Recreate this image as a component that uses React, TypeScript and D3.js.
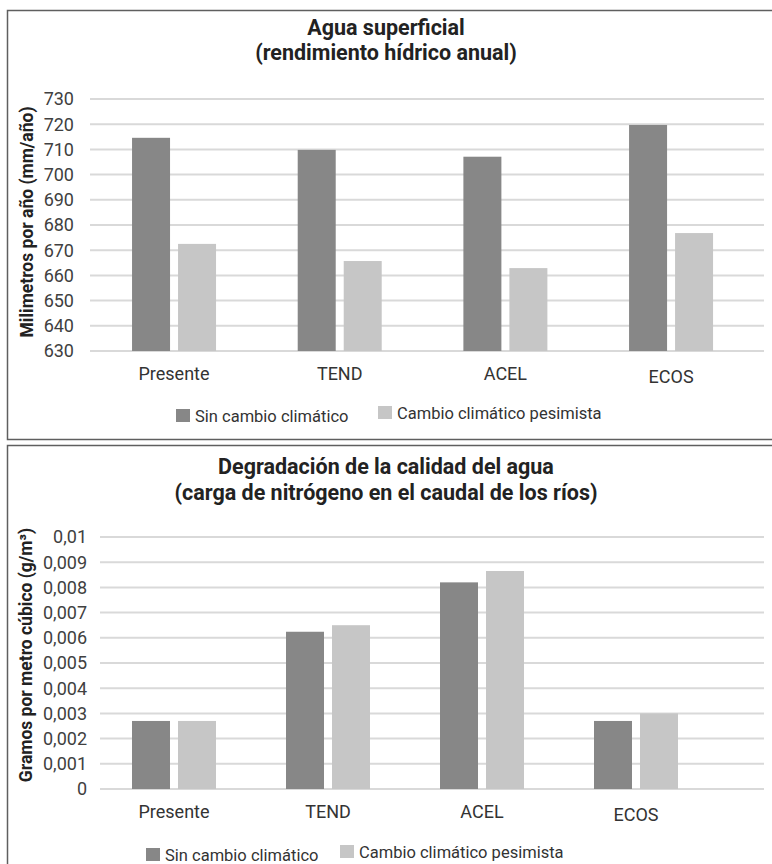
import * as React from 'react';
import * as d3 from 'd3';

const categories = ['Presente', 'TEND', 'ACEL', 'ECOS'];
const seriesNames = ['Sin cambio climático', 'Cambio climático pesimista'];

// agua superficial (mm/año)
const waterNoChange = [714.6, 709.8, 707.1, 719.7];
const waterPessimist = [672.5, 665.7, 662.9, 676.8];
const waterTicks = [630, 640, 650, 660, 670, 680, 690, 700, 710, 720, 730];

// carga de nitrógeno (g/m3)
const nitroNoChange = [0.0027, 0.00624, 0.0082, 0.0027];
const nitroPessimist = [0.0027, 0.0065, 0.00865, 0.003];
const nitroTicks = [0, 0.001, 0.002, 0.003, 0.004, 0.005, 0.006, 0.007, 0.008, 0.009, 0.01];

const DARK = '#878787';
const LIGHT = '#c6c6c6';
const GRID = '#d9d9d9';
const FONT = 'Roboto, sans-serif';

interface PanelProps {
  titles: string[];
  titleY: number[];
  yLabel: string;
  yLabelX: number;
  yLabelY: number;
  yDomain: [number, number];
  yRange: [number, number];
  ticks: number[];
  tickFormat: (v: number) => string;
  tickX: number;
  gridX: [number, number];
  bandRange: [number, number];
  series: number[][];
  catLabelY: number;
  legendY: number;
  legendX: number[];
}

function Panel(p: PanelProps) {
  const x = d3.scaleBand<string>().domain(categories).range(p.bandRange).paddingInner(0);
  const inner = d3.scaleBand<string>().domain(seriesNames).range([0, 84]).paddingInner(8 / 46);
  const y = d3.scaleLinear().domain(p.yDomain).range(p.yRange);
  const colors = [DARK, LIGHT];

  return (
    <g>
      {p.titles.map((t, i) => (
        <text key={t} x={386} y={p.titleY[i]} textAnchor="middle" fontFamily={FONT}
          fontWeight="bold" fontSize={21.5} fill="#222">{t}</text>
      ))}
      <text transform={`translate(${p.yLabelX},${p.yLabelY}) rotate(-90)`} textAnchor="middle"
        fontFamily={FONT} fontWeight="bold" fontSize={17.5} fill="#222">{p.yLabel}</text>
      {p.ticks.map(t => (
        <g key={t}>
          <line x1={p.gridX[0]} x2={p.gridX[1]} y1={y(t)} y2={y(t)} stroke={GRID} strokeWidth={2} />
          <text x={p.tickX} y={y(t)} dy="0.35em" textAnchor="end" fontFamily={FONT}
            fontSize={18} fill="#404040">{p.tickFormat(t)}</text>
        </g>
      ))}
      {categories.map((c, ci) => {
        const cx = (x(c) as number) + x.bandwidth() / 2;
        return (
          <g key={c}>
            {p.series.map((s, si) => (
              <rect key={si} x={cx - 42 + (inner(seriesNames[si]) as number)} y={y(s[ci])}
                width={inner.bandwidth()} height={y(p.yDomain[0]) - y(s[ci])} fill={colors[si]} />
            ))}
            <text x={cx} y={p.catLabelY + (c === 'ECOS' ? 3 : 0)} dy="0.35em" textAnchor="middle"
              fontFamily={FONT} fontSize={18} fill="#333">{c}</text>
          </g>
        );
      })}
      {seriesNames.map((n, i) => (
        <g key={n} transform={`translate(${p.legendX[i]},${p.legendY - i * 3})`}>
          <rect x={0} y={-7} width={14} height={13} fill={colors[i]} />
          <text x={19} y={0} dy="0.35em" fontFamily={FONT} fontSize={16.5} fill="#333">{n}</text>
        </g>
      ))}
    </g>
  );
}

export default function App() {
  const fmtComma = (v: number) => (v === 0 ? '0' : String(+v.toFixed(3)).replace('.', ','));
  return (
    <svg width={772} height={864} style={{ position: 'absolute', left: 0, top: 0 }}>
      <rect width={772} height={864} fill="#fff" />
      {/* top panel frame */}
      <path d="M772,10.5 H7.5 V439.5 H772" fill="none" stroke="#5f5f5f" strokeWidth={1.5} />
      {/* bottom panel frame */}
      <path d="M772,445.5 H7.5 V864" fill="none" stroke="#5f5f5f" strokeWidth={1.5} />
      <Panel
        titles={['Agua superficial', '(rendimiento hídrico anual)']}
        titleY={[35, 60]}
        yLabel="Milimetros por año (mm/año)"
        yLabelX={33}
        yLabelY={222}
        yDomain={[630, 730]}
        yRange={[351, 99]}
        ticks={waterTicks}
        tickFormat={v => String(v)}
        tickX={74}
        gridX={[90, 764]}
        bandRange={[91.2, 753.9]}
        series={[waterNoChange, waterPessimist]}
        catLabelY={374}
        legendY={416}
        legendX={[176, 378]}
      />
      <Panel
        titles={['Degradación de la calidad del agua', '(carga de nitrógeno en el caudal de los ríos)']}
        titleY={[474, 500]}
        yLabel="Gramos por metro cúbico (g/m³)"
        yLabelX={32}
        yLabelY={655}
        yDomain={[0, 0.01]}
        yRange={[789, 537]}
        ticks={nitroTicks}
        tickFormat={fmtComma}
        tickX={87}
        gridX={[100, 764]}
        bandRange={[97, 713]}
        series={[nitroNoChange, nitroPessimist]}
        catLabelY={812}
        legendY={855}
        legendX={[146, 340]}
      />
    </svg>
  );
}
